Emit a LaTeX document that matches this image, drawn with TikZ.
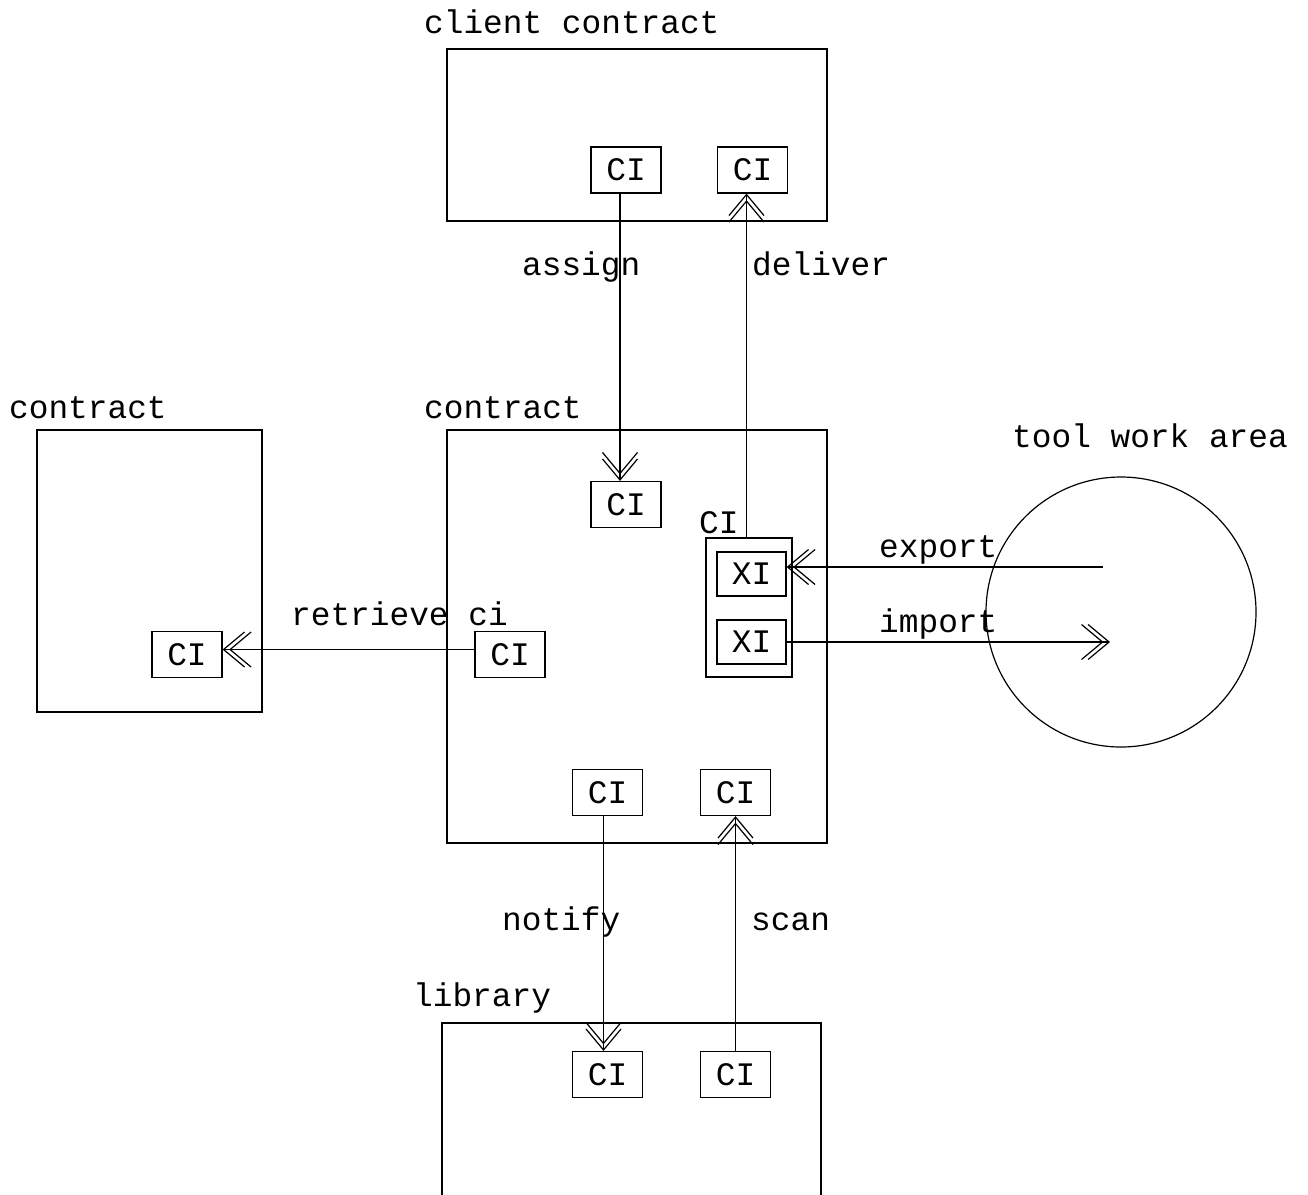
\documentclass[tikz,border=0pt]{standalone}
\usepackage{fontspec}
\newfontfamily\lbfont{Liberation Mono}
\usetikzlibrary{arrows.meta,positioning}

\begin{document}
\begin{tikzpicture}[
    x=1pt, y=-1pt,
    every node/.style={font=\lbfont\fontsize{32.8}{39}\selectfont},
    area/.style={draw, line width=1.2pt, inner sep=0pt},
    item/.style={area, minimum width=70pt, minimum height=46pt},
    lbl/.style={anchor=base west, inner sep=0pt},
    arr/.style={line width=1.2pt, -{Straight Barb[length=21pt,width=35pt,line width=1.2pt,sep=-16pt]Straight Barb[length=21pt,width=35pt,line width=1.2pt]}}
]
\useasboundingbox (0,0) rectangle (1308,1194);

% containers
\node[area, minimum width=380pt, minimum height=172pt] (client) at (637,135) {};
\node[area, minimum width=380pt, minimum height=413pt] (main) at (637,636.5) {};
\node[area, minimum width=225pt, minimum height=282pt] (other) at (149.5,571) {};
\node[area, minimum width=379pt, minimum height=300pt] (lib) at (631.5,1173) {};
\node[area, circle, minimum size=270pt] (twa) at (1121,612) {};

\node[lbl] at (424,33) {client contract};
\node[lbl] at (424,418) {contract};
\node[lbl] at (9,418) {contract};
\node[lbl] at (413,1006) {library};
\node[lbl] at (1012,447) {tool work area};

% configuration items
\node[item] (cliA) at (626,170) {CI};
\node[item] (cliB) at (752.5,170) {CI};
\node[item] (inA) at (626,504.5) {CI};
\node[item] (inB) at (510,654.5) {CI};
\node[item] (inC) at (607.5,792.5) {CI};
\node[item] (inD) at (735.5,792.5) {CI};
\node[item] (othA) at (187,654.5) {CI};
\node[item] (libA) at (607.5,1074.5) {CI};
\node[item] (libB) at (735.5,1074.5) {CI};

% nested CI with its XIs
\node[area, minimum width=86pt, minimum height=139pt] (grp) at (749,607.5) {};
\node[lbl] at (699,533) {CI};
\node[item, minimum width=69pt, minimum height=44pt] (xiA) at (751.5,574) {XI};
\node[item, minimum width=69pt, minimum height=44pt] (xiB) at (751.5,642) {XI};

\coordinate (expsrc) at (1103,567);
\coordinate (impdst) at (1110,642);

% connectors
\draw[arr] ([xshift=-6pt]cliA.south) -- ([xshift=-6pt]inA.north);
\draw[arr] ([xshift=-6pt]cliB.south |- grp.north) -- ([xshift=-6pt]cliB.south);
\draw[arr] ([yshift=5pt]inB.west) -- ([yshift=5pt]othA.east);
\draw[arr] (expsrc) -- (expsrc -| xiA.east);
\draw[arr] (xiB.east) -- (impdst);
\draw[arr] ([xshift=-4pt]inC.south) -- ([xshift=-4pt]libA.north);
\draw[arr] (libB.north) -- (inD.south);

\node[lbl] at (522,275) {assign};
\node[lbl] at (752,275) {deliver};
\node[lbl] at (291,625) {retrieve ci};
\node[lbl] at (879,557) {export};
\node[lbl] at (879,632) {import};
\node[lbl] at (502,930) {notify};
\node[lbl] at (751,930) {scan};
\end{tikzpicture}
\end{document}
